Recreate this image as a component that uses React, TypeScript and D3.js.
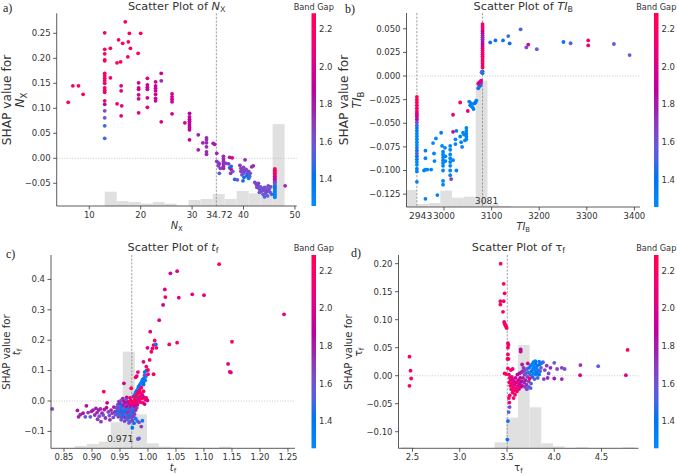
import React from "react";
import * as d3 from "d3";

type Pt = [number, number, number];

// ---------------- DATA ----------------
const bandGapDomain: [number, number] = [1.257, 2.285];
const colorbarTicks = [1.4, 1.6, 1.8, 2.0, 2.2];

// Panel a: N_X
const nxTicksX = [10, 20, 30, 40, 50];
const nxTicksY = [-0.05, 0, 0.05, 0.1, 0.15, 0.2, 0.25];
const nxHistCounts = [43, 15, 12, 7, 12, 7, 1, 18, 21, 36, 21, 45, 38, 30, 246];
const nxPoints: Pt[] = [
  [5.9, 0.112, 2.2], [6.8, 0.145, 2.2], [7.9, 0.145, 2.2], [8.8, 0.128, 2.2],
  [13, 0.251, 2.25], [13, 0.218, 2.25], [13, 0.209, 2.25], [13, 0.197, 2.25], [13, 0.195, 2.25], [13, 0.17, 2.2],
  [13, 0.165, 2.2], [13, 0.16, 2.2], [13, 0.155, 2.2], [13, 0.15, 2.2], [13, 0.141, 2.2], [13, 0.136, 2.2],
  [13, 0.132, 2.2], [13, 0.115, 2.15], [13, 0.108, 1.85], [13, 0.095, 1.65], [13, 0.081, 1.6], [13, 0.065, 1.5], [13, 0.04, 1.5],
  [14.1, 0.22, 2.2], [14.1, 0.161, 2.2], [15.4, 0.109, 2.2], [15.4, 0.191, 2.2], [15.7, 0.237, 2.2], [16.1, 0.193, 2.2],
  [16.2, 0.145, 2.0], [16.2, 0.135, 2.0], [16.3, 0.105, 2.05], [16.2, 0.085, 2.05], [16.5, 0.23, 2.2], [17, 0.273, 2.2],
  [17.5, 0.203, 2.2], [17.6, 0.233, 2.2], [17.8, 0.25, 2.2], [18, 0.22, 2.2], [19.5, 0.21, 2.2],
  [19.6, 0.151, 1.95], [19.6, 0.141, 1.95], [19.6, 0.138, 1.95], [19.6, 0.127, 1.95], [19.6, 0.119, 2.0], [19.6, 0.091, 2.05], [20, 0.25, 2.2],
  [21.3, 0.16, 2.05], [21.3, 0.147, 1.95], [21.3, 0.142, 1.95], [21.3, 0.138, 1.95], [21.3, 0.121, 2.0], [21.3, 0.102, 2.05],
  [22.9, 0.153, 1.95], [22.9, 0.145, 1.95], [22.9, 0.14, 1.95], [22.9, 0.135, 1.95], [22.9, 0.128, 1.95], [22.9, 0.12, 1.95], [22.9, 0.115, 1.95],
  [24, 0.17, 1.95], [24, 0.155, 1.75], [24, 0.073, 2.0],
  [26.1, 0.129, 1.95], [26.1, 0.123, 1.95], [26.1, 0.118, 1.95], [26.1, 0.113, 1.95], [26.1, 0.089, 1.95],
  [28.6, 0.071, 2.05],
  [29.5, 0.09, 1.9], [29.5, 0.083, 1.9], [29.5, 0.078, 1.9], [29.5, 0.074, 1.9], [29.5, 0.069, 1.9], [29.5, 0.065, 1.9], [29.5, 0.061, 1.9], [29.5, 0.057, 1.9], [29.5, 0.037, 1.9],
  [31.2, 0.047, 1.8], [31.2, 0.017, 1.8], [32.1, 0.031, 1.8], [32.8, 0.041, 1.75], [32.8, 0.037, 1.75], [32.8, 0.031, 1.75], [32.8, 0.023, 1.75], [32.8, 0.013, 1.75], [32.8, 0.008, 1.75],
  [34.1, 0.03, 1.8], [34.4, 0.028, 1.8], [34.8, 0.01, 1.75], [34.8, -0.006, 1.7], [35.1, -0.009, 1.7], [35.1, -0.015, 1.7], [35.3, -0.03, 1.55], [35.5, -0.02, 1.7], [35.3, -0.011, 1.7],
  [36.1, 0.004, 1.75], [36.1, -0.001, 1.75], [36.1, -0.006, 1.75], [36.1, -0.011, 1.75], [36.1, -0.016, 1.75], [36.1, -0.02, 1.75], [36.6, -0.01, 1.7], [37.1, -0.011, 1.7],
  [37.3, 0.002, 1.8], [37.8, 0.001, 2.0], [37.3, -0.019, 1.45], [37.6, -0.022, 2.1], [37.9, -0.026, 1.55], [37.6, -0.016, 1.45], [37.5, -0.03, 1.7], [38.3, -0.042, 1.45], [38.8, -0.043, 1.6],
  [39.3, -0.014, 1.7], [39.5, -0.02, 1.7], [39.5, -0.026, 1.7], [39.8, -0.023, 1.65], [40, -0.018, 1.65], [40, -0.03, 1.6], [40.2, -0.025, 1.7], [40.3, -0.003, 1.75],
  [40.5, -0.022, 1.65], [40.6, -0.035, 1.4], [40.7, -0.029, 1.6], [40.8, -0.033, 1.45], [41, -0.026, 1.7], [41, -0.04, 1.4], [41.2, -0.036, 1.5], [39.7, -0.033, 1.6],
  [40.1, -0.038, 1.45], [41.6, -0.017, 1.75], [41.9, -0.015, 1.75], [41.3, -0.03, 1.6], [39.9, -0.045, 1.45],
  [42.2, -0.048, 1.65], [42.5, -0.052, 1.7], [42.6, -0.058, 1.6], [42.8, -0.055, 1.65], [43, -0.06, 1.6], [43.2, -0.063, 1.65], [43.3, -0.057, 1.55], [43.5, -0.066, 1.6],
  [43.6, -0.06, 1.6], [43.8, -0.072, 1.55], [44, -0.064, 1.65], [44.1, -0.058, 1.6], [44.3, -0.07, 1.6], [44.5, -0.06, 1.55], [44.6, -0.066, 1.7], [44.8, -0.055, 1.65],
  [45, -0.062, 1.6], [45.2, -0.068, 1.55], [45.3, -0.057, 1.65], [44.1, -0.077, 1.5], [43.1, -0.068, 1.6], [42.9, -0.05, 1.7], [45.5, -0.072, 1.5], [44.7, -0.075, 1.55],
  [46.1, -0.021, 2.25], [46.1, -0.024, 2.25], [46.1, -0.027, 2.2], [46.1, -0.03, 2.2], [46.1, -0.033, 2.15], [46.1, -0.036, 2.1], [46.1, -0.039, 2.0], [46.1, -0.042, 1.9],
  [46.1, -0.045, 1.8], [46.1, -0.048, 1.7], [46.1, -0.051, 1.6], [46.1, -0.054, 1.5], [46.1, -0.057, 1.45], [46.1, -0.06, 1.4], [46.1, -0.063, 1.35], [46.1, -0.066, 1.35],
  [46.1, -0.069, 1.3], [46.1, -0.072, 1.3], [46.1, -0.075, 1.3], [46.1, -0.078, 1.3],
  [48.1, -0.055, 1.75],
];

// Panel b: TI_B
const tiTicksX = [3000, 3100, 3200, 3300, 3400];
const tiTicksY = [-0.125, -0.1, -0.075, -0.05, -0.025, 0, 0.025, 0.05];
const tiHistCounts = [51, 9, 12, 49, 28, 31, 379, 8, 3];
const tiPoints: Pt[] = [
  [2943, -0.022, 2.25], [2943, -0.025, 2.25], [2943, -0.028, 2.2], [2943, -0.031, 2.2], [2943, -0.034, 2.2], [2943, -0.037, 2.15], [2943, -0.039, 2.1],
  [2943, -0.041, 2.0], [2943, -0.043, 1.95], [2943, -0.046, 1.85], [2943, -0.049, 1.65], [2943, -0.052, 1.5], [2943, -0.055, 1.4], [2943, -0.058, 1.35],
  [2943, -0.061, 1.3], [2943, -0.064, 1.3], [2943, -0.067, 1.3], [2943, -0.07, 1.3], [2943, -0.073, 1.3], [2943, -0.076, 1.35], [2943, -0.079, 1.4],
  [2943, -0.082, 1.55], [2943, -0.085, 1.45], [2943, -0.088, 1.35], [2943, -0.091, 1.3], [2943, -0.094, 1.3], [2943, -0.098, 1.3], [2943, -0.101, 1.3], [2943, -0.112, 1.3],
  [2961, -0.079, 1.35], [2961, -0.087, 1.3], [2961, -0.099, 1.3], [2958, -0.1, 1.3], [2965, -0.099, 1.3], [2961, -0.13, 1.3], [2973, -0.099, 1.3], [2977, -0.071, 1.3],
  [2979, -0.082, 1.3], [2980, -0.09, 1.3], [2983, -0.066, 1.3], [2986, -0.126, 1.3], [2994, -0.06, 1.35],
  [2998, -0.08, 1.3], [2998, -0.083, 1.3], [2998, -0.086, 1.3], [2998, -0.089, 1.3], [2998, -0.092, 1.3], [2998, -0.095, 1.3], [2998, -0.1, 1.3], [2998, -0.111, 1.3],
  [2998, -0.115, 1.3], [2996, -0.074, 1.3], [3002, -0.076, 1.3], [3003, -0.085, 1.3], [3003, -0.09, 1.3],
  [3013, -0.074, 1.3], [3013, -0.078, 1.3], [3013, -0.083, 1.3], [3013, -0.087, 1.3], [3013, -0.091, 1.3], [3013, -0.095, 1.3], [3013, -0.1, 1.3], [3013, -0.105, 1.3], [3015, -0.109, 1.7],
  [3019, -0.041, 2.05], [3019, -0.059, 2.0], [3019, -0.089, 1.3], [3024, -0.067, 1.3], [3024, -0.072, 1.3], [3026, -0.058, 1.35], [3026, -0.1, 1.3],
  [3034, -0.028, 2.2], [3034, -0.064, 1.3], [3036, -0.07, 1.3], [3038, -0.075, 1.3], [3040, -0.06, 1.3], [3042, -0.062, 1.3], [3044, -0.068, 1.3],
  [3047, -0.055, 1.3], [3047, -0.058, 1.3], [3047, -0.061, 1.3], [3047, -0.064, 1.3], [3047, -0.067, 1.3], [3050, -0.037, 2.05],
  [3053, -0.027, 1.35], [3055, -0.031, 1.35], [3057, -0.029, 1.35], [3060, -0.033, 1.3], [3062, -0.035, 1.35], [3064, -0.029, 1.35], [3066, -0.028, 1.4], [3068, -0.026, 1.35], [3058, -0.032, 1.3],
  [3072, -0.013, 1.45], [3074, -0.011, 1.5], [3076, -0.01, 1.45], [3078, -0.008, 1.5], [3072, -0.008, 2.0], [3074, -0.007, 2.1], [3076, -0.006, 1.95], [3078, -0.005, 2.05],
  [3081, 0.055, 2.25], [3081, 0.053, 2.2], [3081, 0.051, 2.2], [3081, 0.049, 2.1], [3081, 0.047, 1.9], [3081, 0.045, 1.85], [3081, 0.043, 1.8], [3081, 0.041, 1.8],
  [3081, 0.039, 1.75], [3081, 0.037, 1.8], [3081, 0.035, 1.85], [3081, 0.033, 1.9], [3081, 0.031, 1.95], [3081, 0.029, 2.05], [3081, 0.027, 2.1], [3081, 0.025, 2.15],
  [3081, 0.023, 2.2], [3081, 0.021, 2.2], [3081, 0.019, 2.15], [3081, 0.017, 2.2], [3081, 0.015, 2.2], [3081, 0.013, 2.2], [3081, 0.011, 2.15], [3081, 0.009, 2.2],
  [3081, 0.005, 1.4], [3081, 0.003, 1.4], [3079, 0.004, 1.5],
  [3097, 0.0356, 1.45], [3108, 0.0377, 1.45], [3124, 0.0377, 1.45], [3135, 0.0423, 1.5], [3138, 0.0345, 1.45], [3161, 0.0494, 1.5], [3173, 0.0303, 1.6],
  [3177, 0.0333, 2.05], [3195, 0.0284, 1.55], [3251, 0.036, 1.45], [3266, 0.0347, 1.5], [3303, 0.0377, 2.2], [3303, 0.0324, 2.05], [3357, 0.0339, 1.55], [3390, 0.0222, 1.55],
];

// Panel c: t_f
const tfTicksX = [0.85, 0.9, 0.95, 1.0, 1.05, 1.1, 1.15, 1.2, 1.25];
const tfTicksY = [-0.1, 0, 0.1, 0.2, 0.3, 0.4];
const tfHistCounts = [1, 1, 7, 13, 20, 78, 290, 102, 15, 5, 3, 2, 1, 1, 5, 0, 0, 0, 0, 1];
const tfPoints: Pt[] = [
  [0.829, -0.026, 1.65],
  [0.874, -0.031, 1.8], [0.876, -0.052, 1.8], [0.879, -0.045, 1.75], [0.884, -0.04, 1.85], [0.888, -0.052, 1.6], [0.89, -0.016, 1.85], [0.893, -0.038, 1.7],
  [0.897, -0.052, 1.55], [0.899, -0.034, 1.8], [0.902, -0.03, 1.8], [0.905, -0.046, 1.75], [0.907, -0.024, 1.8], [0.909, -0.038, 1.75], [0.91, -0.06, 1.7],
  [0.912, -0.03, 1.8], [0.913, -0.05, 1.65], [0.915, -0.026, 1.75], [0.916, -0.068, 1.7], [0.918, -0.04, 1.8], [0.92, -0.046, 1.6], [0.921, 0.031, 2.2],
  [0.922, -0.028, 1.8], [0.924, -0.056, 1.75], [0.926, -0.022, 1.85], [0.927, -0.006, 1.9], [0.929, -0.036, 1.7], [0.931, -0.048, 1.6], [0.932, -0.062, 1.75],
  [0.934, -0.03, 1.8], [0.936, -0.04, 1.7], [0.938, -0.054, 1.6], [0.939, -0.02, 1.8], [0.941, -0.035, 1.75], [0.942, -0.045, 1.55],
  [0.955, 0.008, 1.8], [0.962, 0.012, 2.0], [0.968, 0.01, 2.1], [0.974, 0.014, 2.2], [0.978, 0.009, 2.2], [0.982, 0.012, 1.4],
  [0.948, -0.002, 1.7], [0.952, 0.002, 1.6], [0.957, -0.001, 1.9], [0.961, 0.003, 1.5], [0.965, -0.003, 2.0], [0.969, 0.001, 2.2], [0.972, -0.002, 2.15], [0.976, 0.002, 2.25], [0.98, -0.001, 2.2], [0.984, 0.004, 1.35],
  [0.946, -0.012, 1.6], [0.95, -0.008, 1.8], [0.953, -0.013, 1.4], [0.957, -0.01, 1.7], [0.96, -0.006, 1.95], [0.963, -0.012, 1.5], [0.966, -0.009, 2.1], [0.969, -0.013, 1.8], [0.972, -0.008, 2.2], [0.975, -0.011, 2.1], [0.978, -0.007, 2.2], [0.981, -0.012, 2.0],
  [0.944, -0.022, 1.7], [0.947, -0.018, 1.5], [0.95, -0.024, 1.65], [0.953, -0.02, 1.35], [0.956, -0.016, 1.8], [0.959, -0.023, 1.6], [0.962, -0.019, 1.9], [0.965, -0.025, 1.45], [0.968, -0.02, 1.75], [0.971, -0.017, 2.0], [0.974, -0.023, 1.6], [0.977, -0.018, 1.9], [0.98, -0.022, 1.7],
  [0.945, -0.032, 1.4], [0.948, -0.028, 1.6], [0.951, -0.034, 1.7], [0.954, -0.03, 1.4], [0.957, -0.027, 1.55], [0.96, -0.033, 1.65], [0.963, -0.029, 1.35], [0.966, -0.035, 1.6], [0.969, -0.031, 1.7], [0.972, -0.027, 1.5], [0.975, -0.034, 1.65], [0.978, -0.03, 1.75],
  [0.946, -0.042, 1.6], [0.949, -0.038, 1.35], [0.952, -0.044, 1.5], [0.955, -0.04, 1.7], [0.958, -0.037, 1.4], [0.961, -0.043, 1.6], [0.964, -0.039, 1.75], [0.967, -0.045, 1.5], [0.97, -0.041, 1.6], [0.973, -0.037, 1.4], [0.976, -0.043, 1.7],
  [0.947, -0.052, 1.7], [0.95, -0.048, 1.5], [0.953, -0.055, 1.6], [0.956, -0.05, 1.4], [0.959, -0.054, 1.75], [0.962, -0.049, 1.5], [0.965, -0.056, 1.65], [0.968, -0.051, 1.45], [0.971, -0.055, 1.6], [0.974, -0.05, 1.7], [0.978, -0.058, 1.35],
  [0.952, -0.062, 1.6], [0.958, -0.066, 1.7], [0.963, -0.061, 1.5], [0.968, -0.068, 1.6], [0.972, -0.064, 1.7], [0.975, -0.073, 1.4], [0.966, -0.072, 1.55], [0.981, -0.066, 1.5], [0.984, -0.07, 1.65],
  [0.972, -0.088, 1.4], [0.982, -0.125, 1.6], [0.984, -0.123, 1.55], [0.988, -0.084, 1.7], [0.99, -0.065, 1.35], [0.957, 0.058, 1.95], [0.97, 0.042, 2.2],
  [0.976, 0.02, 1.4], [0.978, 0.028, 1.35], [0.98, 0.034, 1.4], [0.982, 0.04, 1.3], [0.983, 0.047, 1.35], [0.985, 0.052, 1.4], [0.987, 0.058, 1.3], [0.989, 0.064, 1.35],
  [0.99, 0.07, 1.3], [0.992, 0.061, 1.4], [0.993, 0.075, 1.45], [0.995, 0.068, 1.35], [0.996, 0.08, 1.3], [0.994, 0.085, 1.6], [0.992, 0.054, 1.45],
  [0.979, 0.018, 2.2], [0.981, 0.024, 2.2], [0.983, 0.03, 2.15], [0.985, 0.036, 2.2], [0.987, 0.026, 2.1], [0.988, 0.044, 2.2], [0.986, 0.016, 2.2], [0.99, 0.02, 2.05],
  [0.992, 0.032, 2.2], [0.989, 0.008, 2.1], [0.993, 0.012, 2.0], [0.995, 0.004, 2.15], [0.997, 0.01, 2.2], [0.999, 0.002, 2.0], [0.984, 0.006, 2.2], [0.986, -0.004, 2.1],
  [0.991, -0.006, 2.2], [0.994, -0.01, 1.9], [0.98, 0.082, 2.0], [0.982, 0.095, 2.15], [0.978, 0.078, 2.2], [0.997, 0.1, 1.35], [0.994, 0.095, 1.4],
  [0.992, 0.129, 2.0], [0.997, 0.113, 2.2], [1.0, 0.102, 2.2], [1.0, 0.088, 2.2], [1.01, 0.088, 2.2], [1.003, 0.135, 2.2], [1.006, 0.162, 2.2],
  [0.999, 0.175, 2.05], [1.004, 0.228, 2.05], [1.008, 0.173, 2.2], [1.01, 0.184, 2.15], [1.012, 0.199, 2.2], [1.014, 0.186, 1.45], [1.015, 0.175, 2.2],
  [1.02, 0.266, 2.05], [1.027, 0.316, 1.9], [1.03, 0.367, 2.05], [1.031, 0.342, 2.15], [1.038, 0.186, 2.2], [1.04, 0.42, 2.0], [1.052, 0.427, 2.05],
  [1.052, 0.192, 2.2], [1.055, 0.34, 2.05], [1.079, 0.351, 2.05], [1.1, 0.348, 2.05], [1.127, 0.45, 2.2], [1.143, 0.122, 2.05], [1.146, 0.096, 2.0],
  [1.148, 0.094, 2.05], [1.15, 0.195, 2.2], [1.243, 0.285, 2.05],
];

// Panel d: tau_f
const tauTicksX = [2.5, 3.0, 3.5, 4.0, 4.5];
const tauTicksY = [-0.1, -0.05, 0, 0.05, 0.1, 0.15, 0.2];
const tauHistCounts = [3, 0, 0, 0, 0, 0, 0, 0, 18, 92, 310, 123, 15, 6, 1, 3, 0, 1, 0, 3];
const tauPoints: Pt[] = [
  [2.468, 0.034, 2.2], [2.479, 0.009, 2.2], [2.486, -0.005, 2.2], [2.468, -0.018, 2.2],
  [3.433, 0.2, 2.2], [3.465, 0.164, 2.2], [3.475, 0.147, 2.2], [3.465, 0.133, 2.2], [3.43, 0.133, 2.2], [3.43, 0.127, 2.2], [3.458, 0.114, 2.2],
  [3.47, 0.096, 2.2], [3.475, 0.093, 2.2], [3.48, 0.091, 2.2], [3.486, 0.089, 2.2], [3.492, 0.087, 2.2], [3.497, 0.085, 2.2],
  [3.51, 0.058, 2.2], [3.515, 0.055, 2.2], [3.51, 0.05, 2.2], [3.51, 0.038, 2.2], [3.505, 0.03, 2.2], [3.515, 0.03, 2.2], [3.51, 0.013, 2.2], [3.475, 0.004, 2.2], [3.49, 0.003, 2.2],
  [3.528, -0.056, 1.6], [3.518, -0.065, 1.55], [3.51, -0.081, 1.45], [3.504, -0.114, 1.45],
  [3.52, 0.002, 2.2], [3.53, -0.004, 2.15], [3.525, -0.012, 2.2], [3.54, -0.008, 2.1], [3.535, -0.018, 2.2], [3.55, -0.002, 2.0], [3.55, -0.014, 2.15], [3.545, -0.024, 2.2],
  [3.56, -0.006, 2.05], [3.565, -0.02, 2.1], [3.56, -0.03, 2.2], [3.575, -0.01, 2.0], [3.575, -0.026, 2.15], [3.58, -0.016, 2.05], [3.585, -0.034, 2.2], [3.59, -0.004, 1.95],
  [3.595, -0.022, 2.1], [3.6, -0.012, 2.0], [3.605, -0.028, 2.15], [3.61, 0.002, 1.9], [3.615, -0.018, 2.0], [3.62, -0.008, 1.95], [3.625, -0.024, 2.1], [3.63, 0.004, 1.85],
  [3.635, -0.014, 1.95], [3.64, -0.004, 1.9], [3.645, -0.02, 2.0], [3.65, 0.006, 1.8], [3.655, -0.01, 1.85], [3.66, -0.018, 1.9], [3.52, -0.04, 2.2], [3.525, -0.048, 2.15],
  [3.53, -0.035, 2.2], [3.57, -0.04, 2.2], [3.54, 0.01, 2.2], [3.56, 0.012, 2.1],
  [3.665, 0.008, 1.75], [3.67, -0.004, 1.8], [3.675, 0.014, 1.7], [3.68, -0.012, 1.75], [3.685, 0.002, 1.65], [3.69, 0.01, 1.7], [3.695, -0.008, 1.8], [3.7, 0.004, 1.6],
  [3.705, -0.016, 1.75], [3.71, 0.012, 1.55], [3.715, -0.002, 1.65], [3.72, 0.022, 2.0], [3.725, 0.006, 1.5], [3.73, -0.01, 1.7], [3.735, 0.014, 1.45], [3.745, 0.002, 1.5],
  [3.75, 0.018, 1.35], [3.755, -0.014, 1.6], [3.76, 0.008, 1.4], [3.765, 0.02, 1.3], [3.77, -0.002, 1.45], [3.775, 0.012, 1.35], [3.78, 0.004, 1.3], [3.785, 0.016, 1.35],
  [3.79, -0.006, 1.5], [3.795, 0.01, 1.3], [3.8, 0.022, 1.4], [3.805, 0.002, 1.35], [3.81, 0.014, 1.3], [3.815, 0.006, 1.4], [3.82, 0.018, 1.35], [3.825, -0.004, 1.5],
  [3.83, 0.01, 1.35], [3.84, 0.002, 1.45], [3.845, 0.02, 1.4], [3.85, 0.008, 1.5], [3.86, 0.014, 1.6], [3.69, -0.02, 1.7], [3.71, -0.024, 1.65], [3.73, -0.02, 1.6],
  [3.75, -0.022, 1.5], [3.645, 0.047, 1.85], [3.645, 0.043, 1.95], [3.66, 0.02, 1.8], [3.74, -0.005, 2.2],
  [3.78, 0.024, 1.3], [3.8, 0.026, 1.35], [3.84, 0.025, 1.3], [3.86, 0.022, 1.35],
  [3.88, 0.024, 1.5], [3.9, 0.01, 1.65], [3.92, 0.018, 1.7], [3.94, 0.004, 1.6], [3.96, 0.014, 1.75], [4.0, 0.023, 1.55], [4.0, -0.005, 1.8], [4.03, 0.012, 1.65],
  [4.08, 0.014, 1.7], [4.08, -0.006, 1.75], [4.11, 0.012, 1.6], [3.89, -0.006, 1.7], [3.93, -0.004, 1.75], [4.274, 0.001, 2.0], [4.277, 0.019, 1.75],
  [4.465, 0.017, 1.55], [4.758, 0.001, 2.05], [4.776, 0.046, 2.2],
];

// ---------------- COLOR MAP (SHAP red_blue, Lch) ----------------
function lchToHex(L: number, C: number, h: number): string {
  const a = C * Math.cos(h), b = C * Math.sin(h);
  const fy = (L + 16) / 116, fx = fy + a / 500, fz = fy - b / 200;
  const finv = (t: number) => (t > 6 / 29 ? t * t * t : 3 * (6 / 29) ** 2 * (t - 4 / 29));
  const X = 0.95047 * finv(fx), Y = finv(fy), Z = 1.08883 * finv(fz);
  const r = 3.2404542 * X - 1.5371385 * Y - 0.4985314 * Z;
  const g = -0.969266 * X + 1.8760108 * Y + 0.041556 * Z;
  const bl = 0.0556434 * X - 0.2040259 * Y + 1.0572252 * Z;
  const gam = (c: number) => {
    c = Math.max(0, Math.min(1, c));
    return c <= 0.0031308 ? 12.92 * c : 1.055 * Math.pow(c, 1 / 2.4) - 0.055;
  };
  return d3.rgb(gam(r) * 255, gam(g) * 255, gam(bl) * 255).formatHex();
}
function redBlue(t: number): string {
  t = Math.max(0, Math.min(1, t));
  const L = t < 0.5 ? 54 + (40 - 54) * (t / 0.5) : 40 + (54 - 40) * ((t - 0.5) / 0.5);
  const C = 70 + 20 * t;
  const h = 4.6588 + (0.35470565 + 2 * Math.PI - 4.6588) * t;
  return lchToHex(L, C, h);
}
const colorT = d3.scaleLinear().domain(bandGapDomain).range([0, 1]).clamp(true);

// ---------------- COMPONENTS ----------------
const FONT = "DejaVu Sans, sans-serif";
const AXIS = "#333333";

type Label = { main: string; sub: string; italic: boolean };

function MathT({ l, size }: { l: Label; size: number }) {
  return (
    <>
      <tspan fontStyle={l.italic ? "italic" : "normal"}>{l.main}</tspan>
      <tspan fontSize={size * 0.7} dy={size * 0.22}>{l.sub}</tspan>
    </>
  );
}

interface Note { text: string; value: number; dx: number; y: number; anchor: string }
interface Cfg {
  id: string;
  letter: string; letterX: number; letterY: number;
  left: number; right: number; top: number; bottom: number;
  xDomain: [number, number]; yDomain: [number, number];
  xTicks: number[]; yTicks: number[]; xFmt: string; yFmt: string;
  points: Pt[];
  histStart: number; histWidth: number; histCounts: number[]; histTop: number;
  vlines: number[]; notes: Note[];
  label: Label; ylab: [number, number]; ylabCy: number; ylabFs: number; titleY: number; xlabY: number;
  cbarX: number;
}

function Panel({ c }: { c: Cfg }) {
  const xs = d3.scaleLinear().domain(c.xDomain).range([c.left, c.right]);
  const ys = d3.scaleLinear().domain(c.yDomain).range([c.bottom, c.top]);
  const yh = d3.scaleLinear().domain([0, c.histTop]).range([c.bottom, c.top]);
  const cb = d3.scaleLinear().domain(bandGapDomain).range([c.bottom, c.top]);
  const xf = d3.format(c.xFmt), yf = d3.format(c.yFmt);
  const cx = (c.left + c.right) / 2;
  const tickFs = 8.5;
  const stops = d3.range(0, 1.0001, 0.05);
  const cbW = 4.5;
  return (
    <g fontFamily={FONT}>
      {c.histCounts.map((n, i) => {
        if (n <= 0) return null;
        const x0 = Math.max(c.xDomain[0], c.histStart + i * c.histWidth);
        const x1 = c.histStart + (i + 1) * c.histWidth;
        return <rect key={"h" + i} x={xs(x0)} y={yh(n)} width={xs(x1) - xs(x0)} height={c.bottom - yh(n)} fill="#e0e0e0" />;
      })}
      <line x1={c.left} x2={c.right} y1={ys(0)} y2={ys(0)} stroke="#bbbbbb" strokeWidth={0.8} strokeDasharray="1,1.6" />
      {c.vlines.map((v, i) => (
        <line key={"v" + i} x1={xs(v)} x2={xs(v)} y1={c.top} y2={c.bottom} stroke="#888888" strokeWidth={0.8} strokeDasharray="2.2,1.4" />
      ))}
      {c.points.map((p, i) => (
        <circle key={"p" + i} cx={xs(p[0])} cy={ys(p[1])} r={1.9} fill={redBlue(colorT(p[2]))} />
      ))}
      <line x1={c.left} x2={c.left} y1={c.top} y2={c.bottom} stroke={AXIS} strokeWidth={0.8} />
      <line x1={c.left} x2={c.right} y1={c.bottom} y2={c.bottom} stroke={AXIS} strokeWidth={0.8} />
      {c.yTicks.map((t, i) => (
        <g key={"yt" + i}>
          <line x1={c.left - 3.5} x2={c.left} y1={ys(t)} y2={ys(t)} stroke={AXIS} strokeWidth={0.8} />
          <text x={c.left - 6} y={ys(t)} dy="0.34em" textAnchor="end" fontSize={tickFs} fill={AXIS}>{yf(t)}</text>
        </g>
      ))}
      {c.xTicks.map((t, i) => (
        <g key={"xt" + i}>
          <line x1={xs(t)} x2={xs(t)} y1={c.bottom} y2={c.bottom + 3.5} stroke={AXIS} strokeWidth={0.8} />
          <text x={xs(t)} y={c.bottom + 12} textAnchor="middle" fontSize={tickFs} fill={AXIS}>{xf(t)}</text>
        </g>
      ))}
      {c.notes.map((n, i) => (
        <text key={"n" + i} x={xs(n.value) + n.dx} y={n.y} textAnchor={n.anchor as any} fontSize={9.2} fill={AXIS}>{n.text}</text>
      ))}
      <text x={cx} y={c.titleY} textAnchor="middle" fontSize={11.3} fill={AXIS} style={{ whiteSpace: "pre" }}>
        <tspan>{"Scatter Plot of "}</tspan>
        <MathT l={c.label} size={11.3} />
      </text>
      <text x={cx} y={c.xlabY} textAnchor="middle" fontSize={9.8} fill={AXIS}>
        <MathT l={c.label} size={9.8} />
      </text>
      <g transform={`translate(${c.ylab[0]},${c.ylabCy}) rotate(-90)`}>
        <text x={0} y={0} textAnchor="middle" fontSize={c.ylabFs} fill={AXIS}>SHAP value for</text>
        <text x={0} y={c.ylab[1] - c.ylab[0] - 2} textAnchor="middle" fontSize={c.ylabFs} fill={AXIS}>
          <MathT l={c.label} size={c.ylabFs} />
        </text>
      </g>
      <defs>
        <linearGradient id={"cb" + c.id} x1="0" y1="1" x2="0" y2="0">
          {stops.map((s, i) => (
            <stop key={i} offset={s} stopColor={redBlue(s)} />
          ))}
        </linearGradient>
      </defs>
      <rect x={c.cbarX} y={c.top} width={cbW} height={c.bottom - c.top} fill={`url(#cb${c.id})`} />
      {colorbarTicks.map((t, i) => (
        <text key={"cb" + i} x={c.cbarX + cbW + 3} y={cb(t)} dy="0.34em" fontSize={tickFs} fill={AXIS}>{d3.format(".1f")(t)}</text>
      ))}
      <text x={c.cbarX + cbW / 2} y={c.titleY} textAnchor="middle" fontSize={8.2} fill={AXIS}>Band Gap</text>
      <text x={c.letterX} y={c.letterY} fontFamily="Liberation Serif, serif" fontSize={12} fill="#222">{c.letter}</text>
    </g>
  );
}

const panels: Cfg[] = [
  {
    id: "a", letter: "a)", letterX: 3, letterY: 12,
    left: 56.7, right: 296.7, top: 13.3, bottom: 206,
    xDomain: [3.66, 50.35], yDomain: [-0.0954, 0.29],
    xTicks: nxTicksX, yTicks: nxTicksY, xFmt: "d", yFmt: ".2f",
    points: nxPoints,
    histStart: 13, histWidth: 35 / 15, histCounts: nxHistCounts, histTop: 579,
    vlines: [34.72], notes: [{ text: "34.72", value: 34.72, dx: 3, y: 218.3, anchor: "middle" }],
    label: { main: "N", sub: "X", italic: true }, ylab: [11.2, 26.2], ylabCy: 100, ylabFs: 12.2, titleY: 9.6, xlabY: 228.8,
    cbarX: 311.5,
  },
  {
    id: "b", letter: "b)", letterX: 345, letterY: 13,
    left: 406.5, right: 640, top: 13, bottom: 207,
    xDomain: [2921.2, 3411.8], yDomain: [-0.1386, 0.0667],
    xTicks: tiTicksX, yTicks: tiTicksY, xFmt: "d", yFmt: ".3f",
    points: tiPoints,
    histStart: 2917.8, histWidth: 24.8, histCounts: tiHistCounts, histTop: 582,
    vlines: [2943, 3081],
    notes: [
      { text: "2943", value: 2943, dx: 3.7, y: 219, anchor: "middle" },
      { text: "3081", value: 3081, dx: 4, y: 204.4, anchor: "middle" },
    ],
    label: { main: "TI", sub: "B", italic: true }, ylab: [348.2, 363.2], ylabCy: 100, ylabFs: 12.2, titleY: 9.6, xlabY: 229.5,
    cbarX: 654,
  },
  {
    id: "c", letter: "c)", letterX: 6, letterY: 258,
    left: 51, right: 295, top: 255, bottom: 448.3,
    xDomain: [0.8268, 1.2625], yDomain: [-0.1556, 0.4803],
    xTicks: tfTicksX, yTicks: tfTicksY, xFmt: ".2f", yFmt: ".1f",
    points: tfPoints,
    histStart: 0.826, histWidth: 0.0215, histCounts: tfHistCounts, histTop: 580,
    vlines: [0.971], notes: [{ text: "0.971", value: 0.971, dx: 1.5, y: 441.6, anchor: "end" }],
    label: { main: "t", sub: "f", italic: true }, ylab: [9.5, 21.5], ylabCy: 352, ylabFs: 10.2, titleY: 251, xlabY: 470.5,
    cbarX: 311.5,
  },
  {
    id: "d", letter: "d)", letterX: 351, letterY: 257,
    left: 398.5, right: 638.5, top: 255, bottom: 448.3,
    xDomain: [2.352, 4.8915], yDomain: [-0.1296, 0.2155],
    xTicks: tauTicksX, yTicks: tauTicksY, xFmt: ".1f", yFmt: ".2f",
    points: tauPoints,
    histStart: 2.381, histWidth: 0.1235, histCounts: tauHistCounts, histTop: 580,
    vlines: [3.503], notes: [],
    label: { main: "τ", sub: "f", italic: false }, ylab: [352, 364], ylabCy: 352, ylabFs: 10.2, titleY: 251, xlabY: 470.5,
    cbarX: 654,
  },
];

export default function App() {
  return (
    <svg width={677} height={475} style={{ position: "absolute", left: 0, top: 0, background: "#ffffff" }}>
      <rect width={677} height={475} fill="#ffffff" />
      {panels.map((p) => (
        <Panel key={p.id} c={p} />
      ))}
    </svg>
  );
}
